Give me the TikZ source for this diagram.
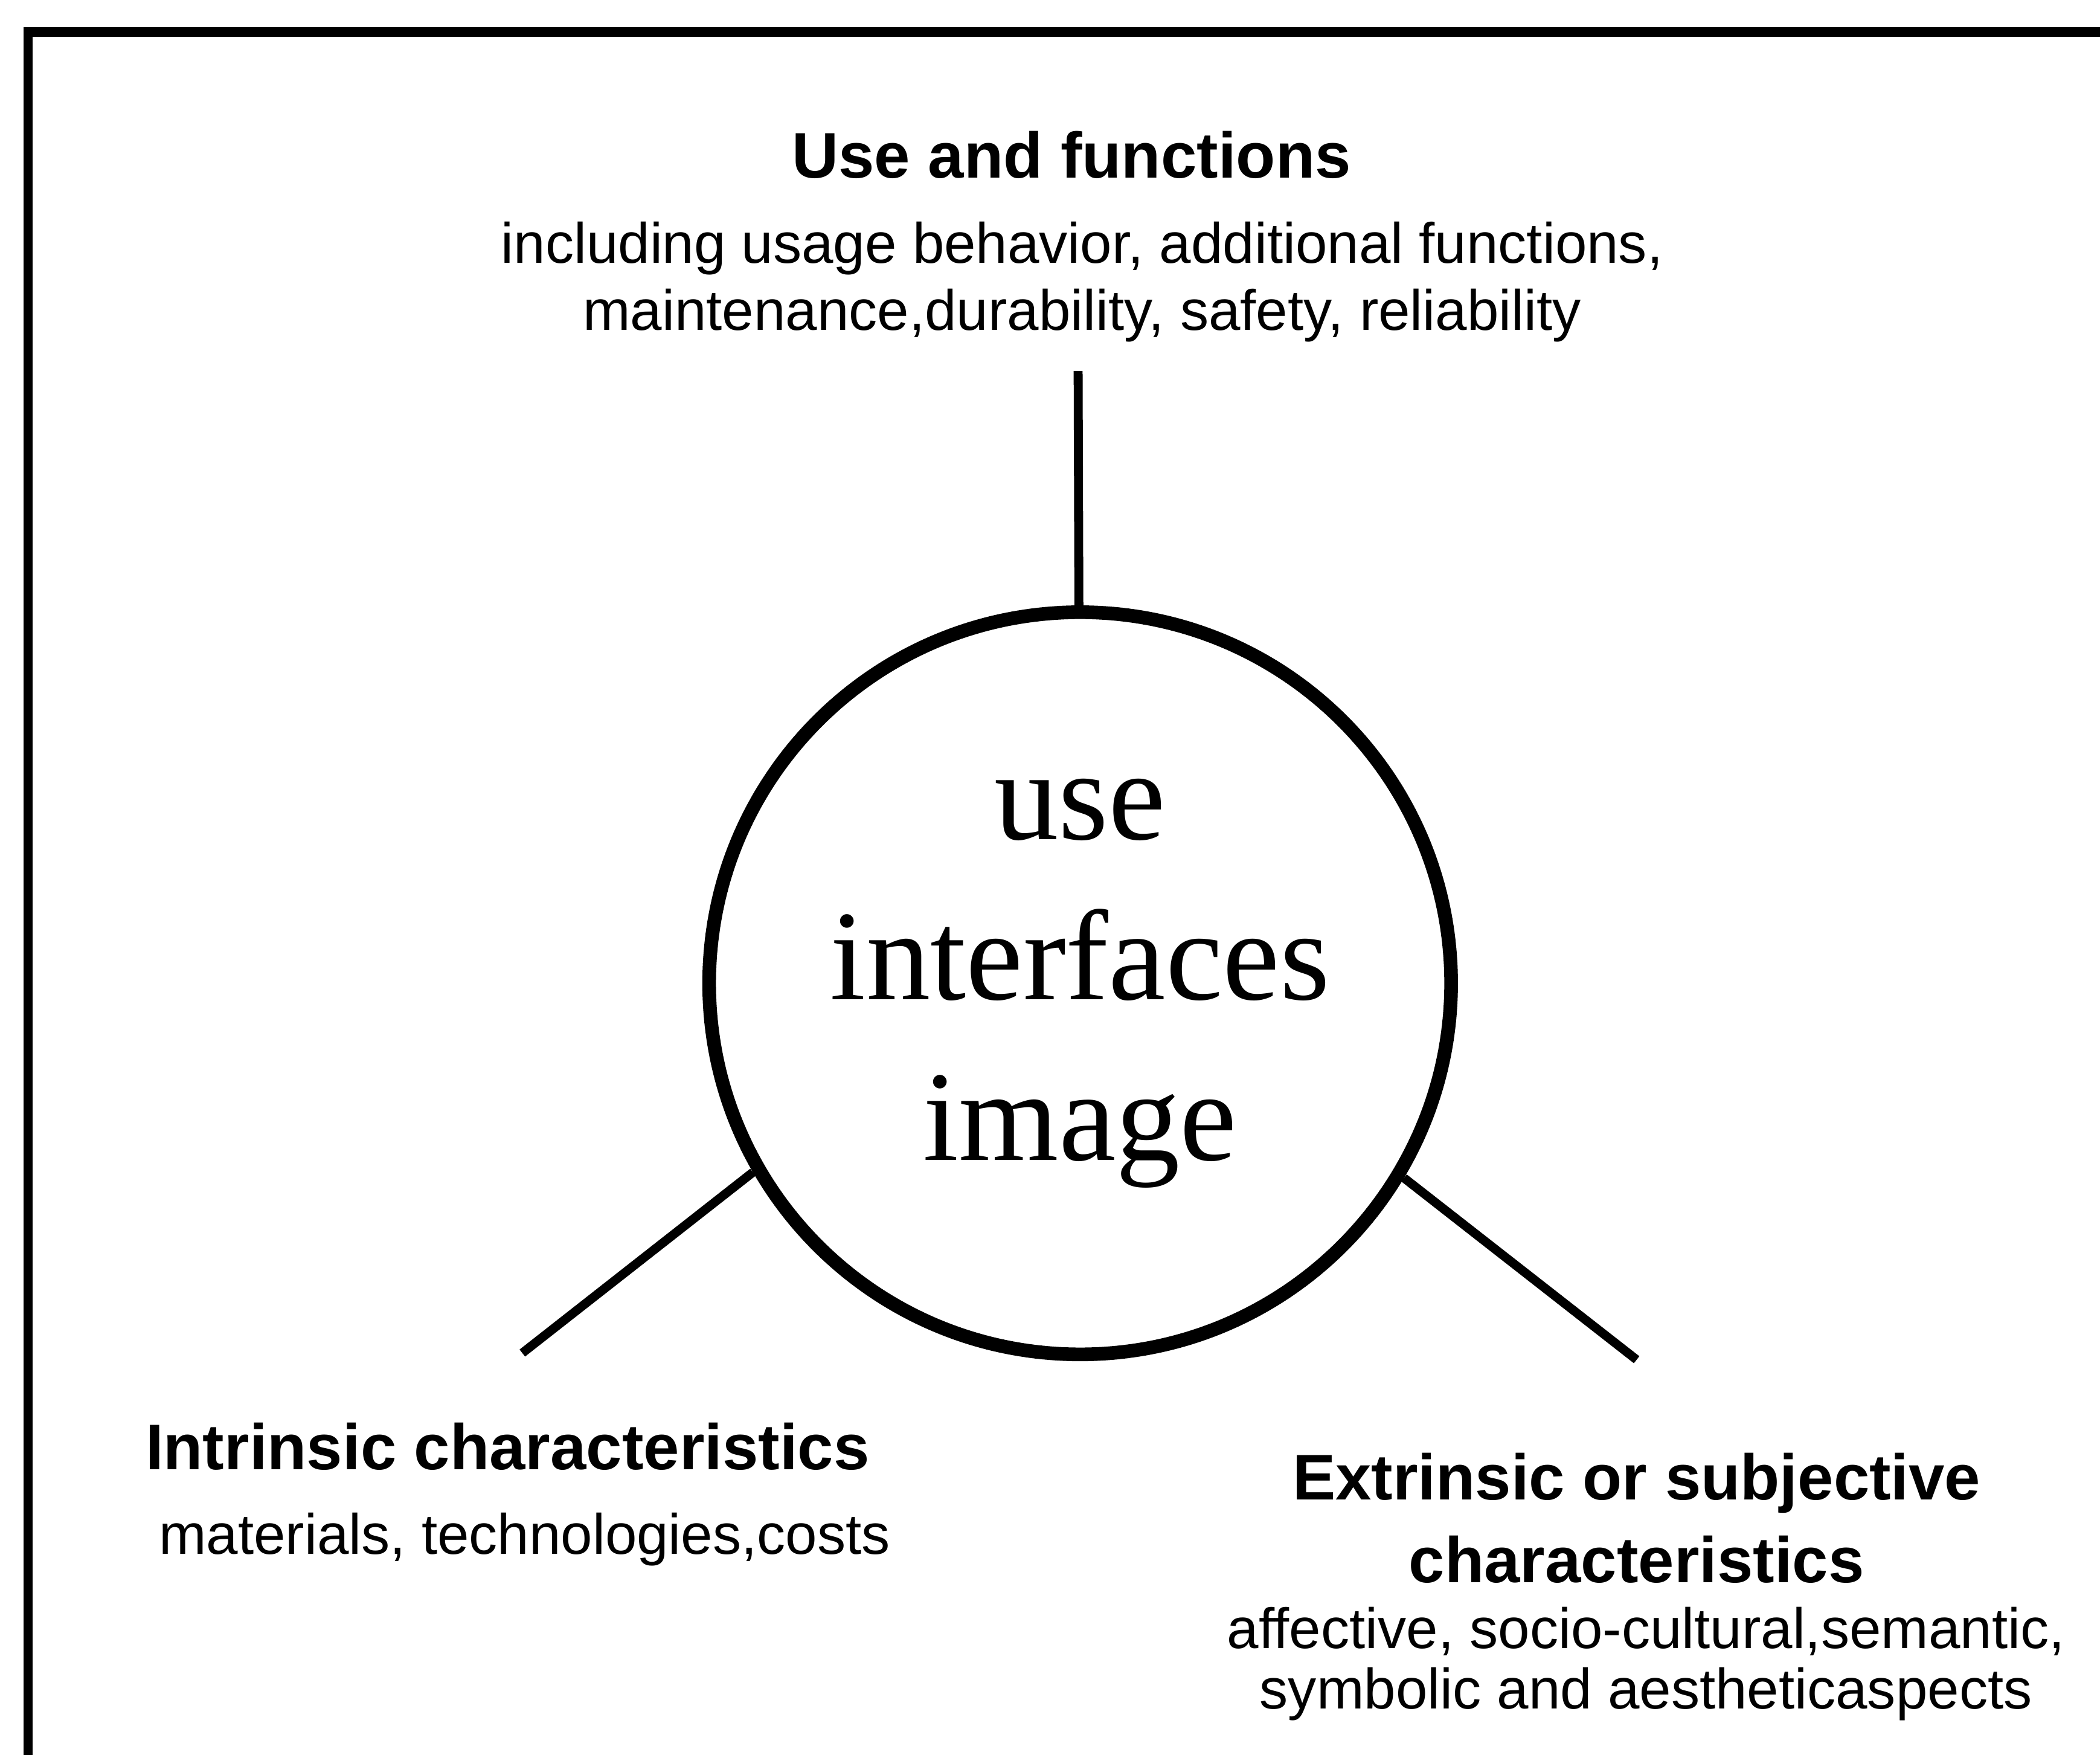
\documentclass[tikz,border=0pt]{standalone}
\usepackage{fontspec}
\setmainfont{Liberation Serif}
\newfontfamily\helv{Liberation Sans}

\begin{document}
\begin{tikzpicture}[x=0.1mm, y=-0.1mm,
    title/.style={font=\helv\bfseries\fontsize{13.7}{17.6}\selectfont, inner sep=0pt},
    desc/.style={font=\helv\fontsize{12.1}{14.2}\selectfont, inner sep=0pt},
    leg/.style={line width=1.9pt}]
    \useasboundingbox (0,0) rectangle (1568,1310);
    \draw[line width=2pt] (21,1330) -- (21,24) -- (1590,24);

    \node[draw, circle, line width=2.9pt, minimum size=5.54cm, inner sep=0pt, align=center, font=\fontsize{27.3}{34.1}\selectfont] (C) at (806.5,734) {use\\interfaces\\image};

    \node[title, anchor=base] (U) at (800,133) {Use and functions};
    \node[desc, anchor=north, align=center] (Ud) at (808,165) {including usage behavior, additional functions,\\maintenance,durability, safety, reliability};

    \node[title, anchor=base west] (I) at (108,1097) {Intrinsic characteristics};
    \node[desc, anchor=base west] (Id) at (118,1160) {materials, technologies,costs};

    \node[title, anchor=north, align=center] (E) at (1222,1084) {Extrinsic or subjective\\characteristics};
    \node[desc, anchor=north, align=center, font=\helv\fontsize{12.1}{12.8}\selectfont] (Ed) at (1229,1199) {affective, socio-cultural,semantic,\\symbolic and aestheticaspects};

    \coordinate (T) at (805,277);
    \coordinate (L) at (390,1010);
    \coordinate (R) at (1222,1015);

    \draw[leg] (C) -- (T);
    \draw[leg] (C.210) -- (L);
    \draw[leg] (C.329) -- (R);
\end{tikzpicture}
\end{document}
